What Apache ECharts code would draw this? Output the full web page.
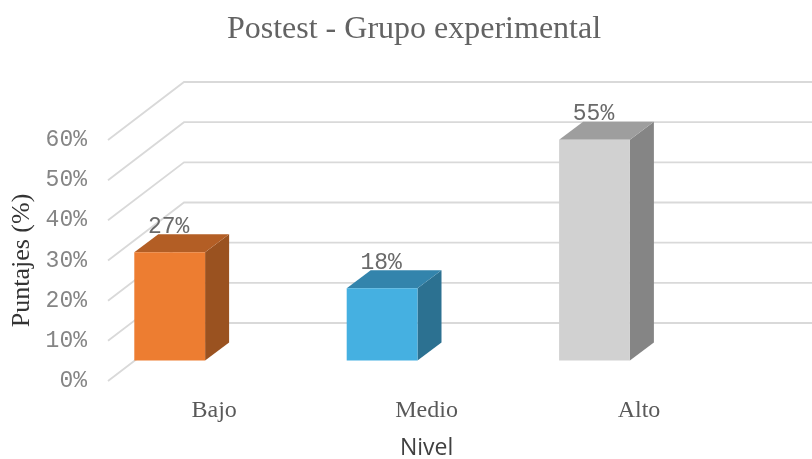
<!DOCTYPE html>
<html>
<head>
<meta charset="utf-8">
<style>html,body{margin:0;padding:0;background:#fff}#chart{width:812px;height:459px}</style>
<script src="https://cdn.jsdelivr.net/npm/echarts@6/dist/echarts.min.js"></script>
</head>
<body>
<div id="chart"></div>
<script>
const titleText = 'Postest - Grupo experimental';
const categories = ['Bajo', 'Medio', 'Alto'];
const percentages = [27, 18, 55];
const yTicks = [0, 10, 20, 30, 40, 50, 60];

// Face colours per bar: front, top, side
const faceColors = [
  ['#ED7D31', '#B35E25', '#9A5220'],
  ['#45B0E1', '#3384AC', '#2C7191'],
  ['#D1D1D1', '#9E9E9E', '#858585']
];

// Oblique projection used for the walls and the boxes
const WALL_DX = 76, WALL_DY = 58;
const BOX_DX = 24, BOX_DY = 18;
const BOX_SHIFT_X = -44.5, BOX_SHIFT_Y = 20.4;

const chart = echarts.init(document.getElementById('chart'), null, { renderer: 'canvas' });

function renderWallLine(params, api) {
  const sys = params.coordSys;
  const y = api.coord([0, api.value(1)])[1];
  return {
    type: 'polyline',
    shape: { points: [
      [sys.x, y],
      [sys.x + WALL_DX, y - WALL_DY],
      [sys.x + WALL_DX + sys.width, y - WALL_DY]
    ] },
    style: { stroke: '#D9D9D9', lineWidth: 1.8, fill: null }
  };
}

function renderBox(params, api) {
  const i = api.value(0), v = api.value(1);
  const w = api.size([1, 0])[0] / 3;
  const base = api.coord([i, 0]);
  const top = api.coord([i, v]);
  const x0 = base[0] + BOX_SHIFT_X - w / 2, x1 = x0 + w;
  const yb = base[1] - BOX_SHIFT_Y, yt = top[1] - BOX_SHIFT_Y;
  const [front, roof, side] = faceColors[i];
  const poly = (points, fill) => ({ type: 'polygon', shape: { points }, style: { fill } });
  return {
    type: 'group',
    children: [
      {
        type: 'text',
        style: {
          text: v + '%',
          x: (x0 + x1) / 2 - 1,
          y: yt - BOX_DY + 4,
          align: 'center',
          verticalAlign: 'bottom',
          fill: '#6A6A6A',
          font: '23px "Liberation Mono"'
        }
      },
      poly([[x1, yb], [x1 + BOX_DX, yb - BOX_DY], [x1 + BOX_DX, yt - BOX_DY], [x1, yt]], side),
      poly([[x0, yt], [x1, yt], [x1 + BOX_DX, yt - BOX_DY], [x0 + BOX_DX, yt - BOX_DY]], roof),
      poly([[x0, yb], [x1, yb], [x1, yt], [x0, yt]], front)
    ]
  };
}

chart.setOption({
  animation: false,
  backgroundColor: '#fff',
  title: {
    text: titleText,
    left: 409,
    top: 9,
    textAlign: 'center',
    textStyle: { fontFamily: 'Liberation Serif', fontWeight: 'normal', fontSize: 32, color: '#636363' }
  },
  grid: { left: 108, top: 140, width: 637.2, height: 241, outerBoundsMode: 'none' },
  xAxis: {
    type: 'category',
    data: categories,
    name: 'Nivel',
    nameLocation: 'middle',
    nameGap: 56,
    nameTextStyle: { fontFamily: 'Open Sans', fontSize: 23, color: '#404040' },
    axisLine: { show: false },
    axisTick: { show: false },
    axisLabel: { margin: 18, fontFamily: 'Liberation Serif', fontSize: 24, color: '#595959' }
  },
  yAxis: {
    type: 'value',
    min: 0,
    max: 60,
    interval: 10,
    name: 'Puntajes (%)',
    nameLocation: 'middle',
    nameGap: 71,
    nameTextStyle: { fontFamily: 'Liberation Serif', fontSize: 26, color: '#333333' },
    axisLine: { show: false },
    axisTick: { show: false },
    splitLine: { show: false },
    axisLabel: {
      formatter: '{value}%',
      margin: 21,
      fontFamily: 'Liberation Mono',
      fontSize: 23,
      color: '#858585'
    }
  },
  series: [
    {
      type: 'custom',
      silent: true,
      z: 1,
      renderItem: renderWallLine,
      encode: { x: 0, y: 1 },
      data: yTicks.map(t => [0, t])
    },
    {
      type: 'custom',
      silent: true,
      z: 2,
      renderItem: renderBox,
      encode: { x: 0, y: 1 },
      data: percentages.map((p, i) => [i, p])
    }
  ]
});
</script>
</body>
</html>
